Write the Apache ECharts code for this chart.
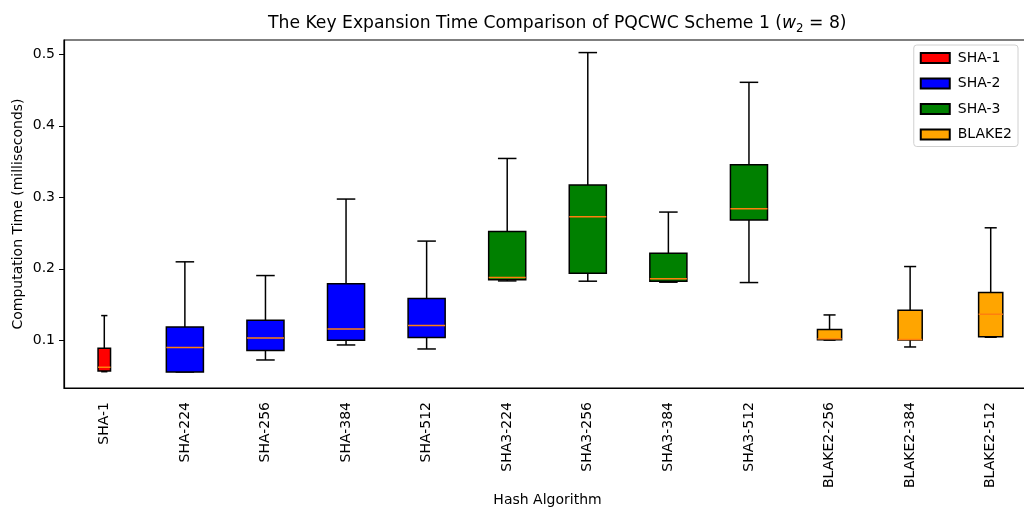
<!DOCTYPE html>
<html>
<head>
<meta charset="utf-8">
<script src="https://cdn.jsdelivr.net/npm/echarts@6/dist/echarts.min.js"></script>
<style>
html,body{margin:0;padding:0;background:#fff;}
#chart{width:1024px;height:508px;}
</style>
</head>
<body>
<div id="chart"></div>
<script>
// ---- data ----
var categories = ['SHA-1','SHA-224','SHA-256','SHA-384','SHA-512','SHA3-224','SHA3-256','SHA3-384','SHA3-512','BLAKE2-256','BLAKE2-384','BLAKE2-512'];
var family     = ['SHA-1','SHA-2','SHA-2','SHA-2','SHA-2','SHA-3','SHA-3','SHA-3','SHA-3','BLAKE2','BLAKE2','BLAKE2'];
var whiskerLow  = [0.056, 0.0556, 0.0724, 0.0934, 0.0878, 0.1830, 0.1826, 0.1812, 0.1807, 0.1002, 0.0906, 0.1042];
var quartile1   = [0.057, 0.0556, 0.0855, 0.1000, 0.1037, 0.1845, 0.1938, 0.1826, 0.2681, 0.1008, 0.1004, 0.1050];
var medians     = [0.0622, 0.0897, 0.1032, 0.1158, 0.1205, 0.1877, 0.2727, 0.1859, 0.2839, 0.1020, 0.1010, 0.1364];
var quartile3   = [0.0888, 0.1186, 0.1280, 0.1789, 0.1583, 0.2521, 0.3171, 0.2218, 0.3455, 0.1149, 0.1420, 0.1667];
var whiskerHigh = [0.1345, 0.2097, 0.1905, 0.2975, 0.2387, 0.3543, 0.5024, 0.2793, 0.4608, 0.1354, 0.2031, 0.2573];
var familyNames  = ['SHA-1','SHA-2','SHA-3','BLAKE2'];
var familyColors = ['#ff0000','#0000ff','#008000','#ffa500'];
var familyWidths = [0.155, 0.46, 0.46, 0.30]; // box width as share of category band

var FONT = 'DejaVu Sans';
var FS = 14;

function makeRender(color, frac) {
  return function (params, api) {
    var x = api.value(0);
    var pMin = api.coord([x, api.value(1)]);
    var pQ1  = api.coord([x, api.value(2)]);
    var pMed = api.coord([x, api.value(3)]);
    var pQ3  = api.coord([x, api.value(4)]);
    var pMax = api.coord([x, api.value(5)]);
    var band = api.size([1, 0])[0];
    var w = band * frac, cw = w / 2, cx = pMin[0];
    var lineStyle = {stroke: '#000', lineWidth: 1.5};
    return {
      type: 'group',
      children: [
        {type: 'line', shape: {x1: cx, y1: pQ1[1], x2: cx, y2: pMin[1]}, style: lineStyle},
        {type: 'line', shape: {x1: cx, y1: pQ3[1], x2: cx, y2: pMax[1]}, style: lineStyle},
        {type: 'line', shape: {x1: cx - cw / 2, y1: pMin[1], x2: cx + cw / 2, y2: pMin[1]}, style: lineStyle},
        {type: 'line', shape: {x1: cx - cw / 2, y1: pMax[1], x2: cx + cw / 2, y2: pMax[1]}, style: lineStyle},
        {type: 'rect', shape: {x: cx - w / 2, y: pQ3[1], width: w, height: pQ1[1] - pQ3[1]},
         style: {fill: color, stroke: '#000', lineWidth: 1.5}},
        {type: 'line', shape: {x1: cx - w / 2, y1: pMed[1], x2: cx + w / 2, y2: pMed[1]},
         style: {stroke: '#ff7f0e', lineWidth: 1.5}}
      ]
    };
  };
}

var series = familyNames.map(function (name, fi) {
  var data = [];
  categories.forEach(function (c, i) {
    if (family[i] === name) {
      data.push([i, whiskerLow[i], quartile1[i], medians[i], quartile3[i], whiskerHigh[i]]);
    }
  });
  return {
    type: 'custom',
    name: name,
    renderItem: makeRender(familyColors[fi], familyWidths[fi]),
    itemStyle: {color: familyColors[fi], borderColor: '#000', borderWidth: 1},
    encode: {x: 0, y: [1, 2, 3, 4, 5]},
    data: data
  };
});

var chart = echarts.init(document.getElementById('chart'), null, {renderer: 'canvas'});
chart.setOption({
  backgroundColor: '#fff',
  animation: false,
  title: {
    text: '{t|The Key Expansion Time Comparison of PQCWC Scheme 1 (}{i|w}{s|2}{t| = 8)}',
    left: 263, top: 8,
    textStyle: {
      fontWeight: 'normal',
      rich: {
        t: {fontFamily: FONT, fontSize: 17.2, fontWeight: 'normal', color: '#000', lineHeight: 22},
        i: {fontFamily: FONT, fontSize: 17.2, fontWeight: 'normal', fontStyle: 'italic', color: '#000', lineHeight: 22},
        s: {fontFamily: FONT, fontSize: 11.8, fontWeight: 'normal', color: '#000', verticalAlign: 'bottom', lineHeight: 14, padding: [7, 0, 0, 0]}
      }
    }
  },
  legend: {
    data: familyNames,
    orient: 'vertical',
    right: 6, top: 45,
    icon: 'rect',
    itemWidth: 29, itemHeight: 10, itemGap: 11.5,
    padding: [6, 6, 5, 6],
    borderColor: '#d0d0d0', borderWidth: 1, borderRadius: 3,
    backgroundColor: 'rgba(255,255,255,0.8)',
    textStyle: {fontFamily: FONT, fontSize: FS, color: '#000', padding: [0, 0, 0, 3]}
  },
  grid: {left: 64, right: -7, top: 40, bottom: 120, outerBoundsMode: 'none', containLabel: false,
         show: true, borderColor: '#000', borderWidth: 1.2, backgroundColor: 'transparent'},
  xAxis: {
    type: 'category',
    data: categories,
    name: 'Hash Algorithm',
    nameLocation: 'middle',
    nameMoveOverlap: false,
    nameGap: 105,
    nameTextStyle: {fontFamily: FONT, fontSize: FS, color: '#000'},
    axisLine: {lineStyle: {color: '#000', width: 1.2}},
    axisTick: {alignWithLabel: true, length: 5, lineStyle: {color: '#000'}},
    axisLabel: {rotate: 90, margin: 14, fontFamily: FONT, fontSize: FS, color: '#000'},
    splitLine: {show: false}
  },
  yAxis: {
    type: 'value',
    min: 0.0332, max: 0.520,
    splitNumber: 5,
    name: 'Computation Time (milliseconds)',
    nameLocation: 'middle',
    nameMoveOverlap: false,
    nameGap: 39,
    nameTextStyle: {fontFamily: FONT, fontSize: FS, color: '#000'},
    axisLine: {show: true, lineStyle: {color: '#000', width: 1.2}},
    axisTick: {show: true, length: 5, lineStyle: {color: '#000'}},
    axisLabel: {margin: 9, fontFamily: FONT, fontSize: FS, color: '#000', showMinLabel: false, showMaxLabel: false,
      formatter: function (v) { return (Math.abs(v * 10 - Math.round(v * 10)) < 1e-6) ? v.toFixed(1) : ''; }},
    splitLine: {show: false}
  },
  series: series
});
</script>
</body>
</html>
